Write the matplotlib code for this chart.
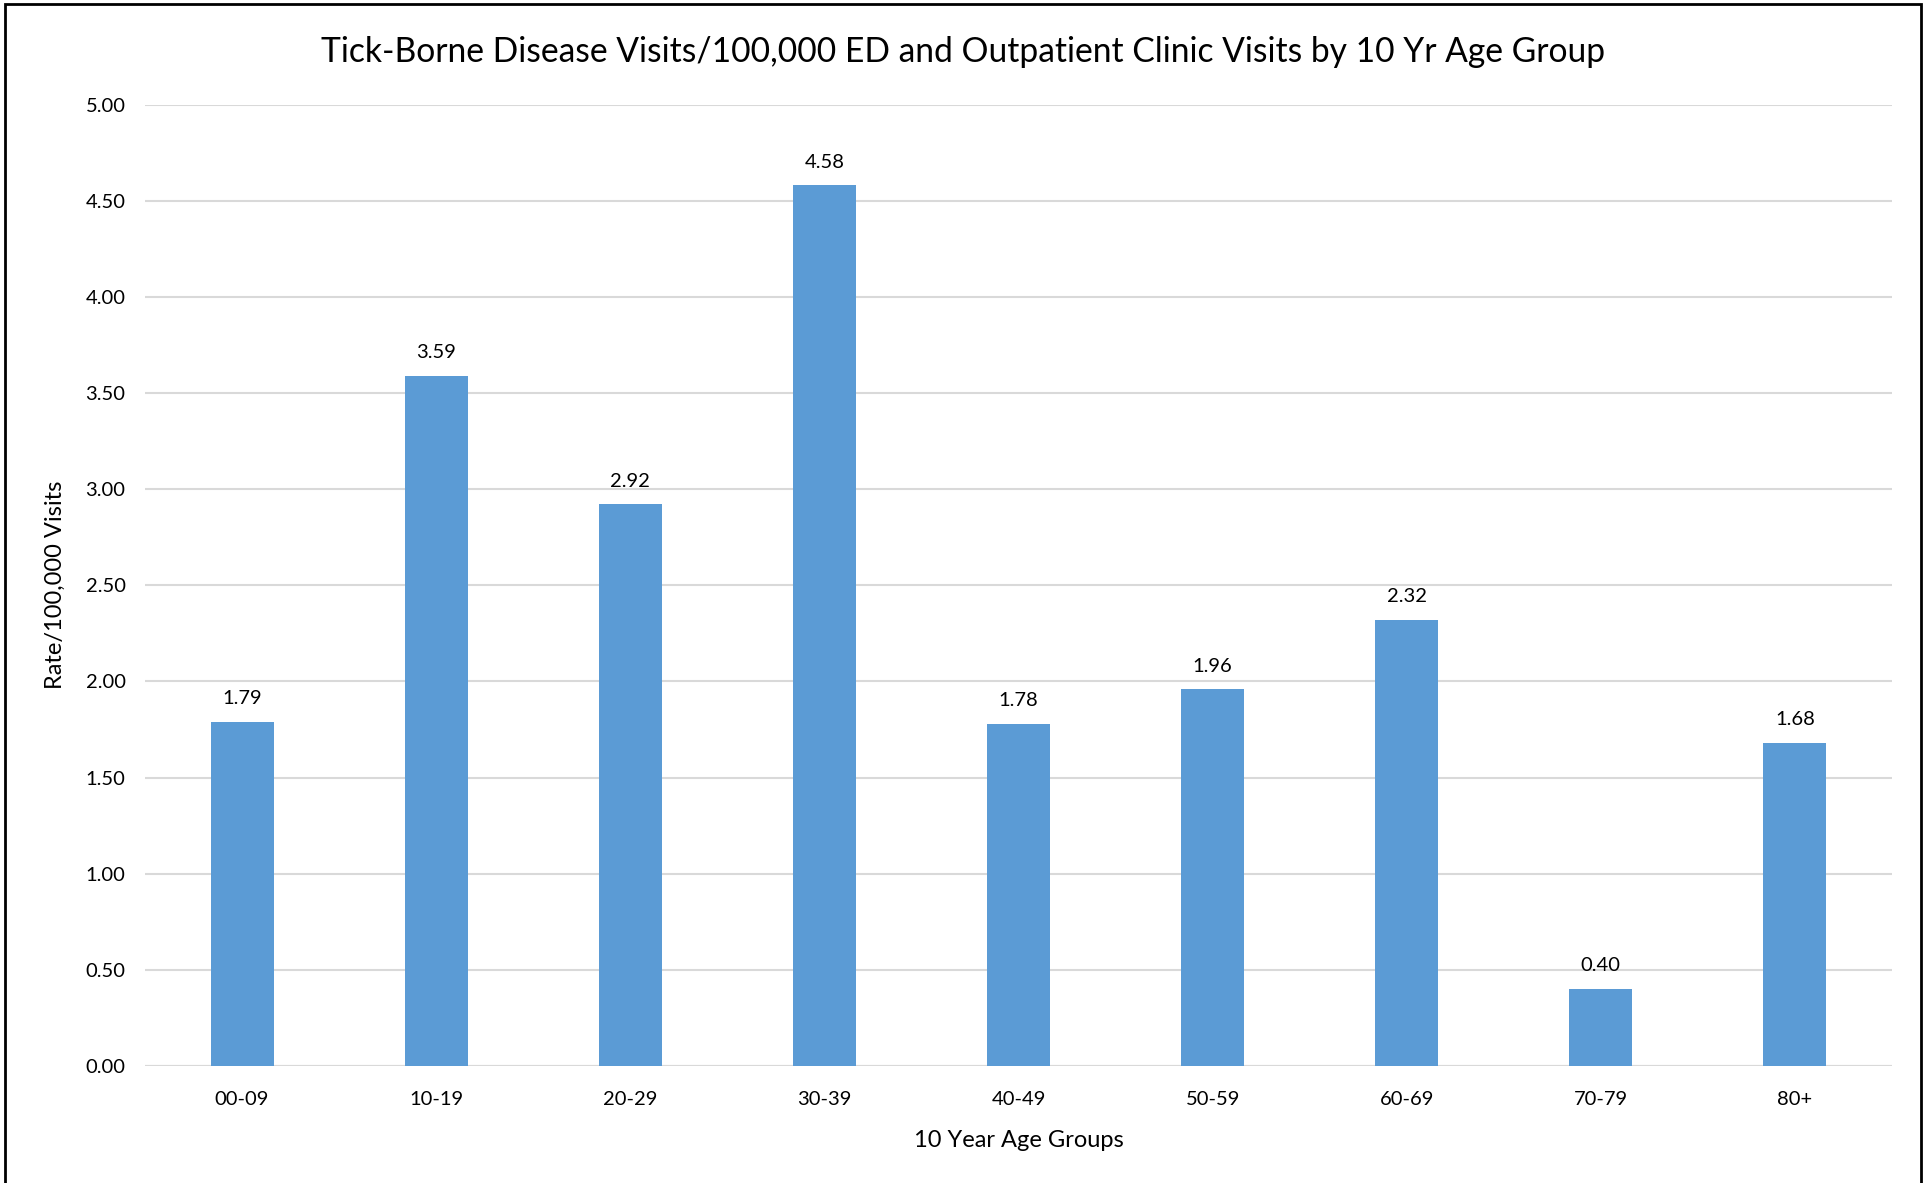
import matplotlib
matplotlib.use("Agg")
import matplotlib.pyplot as plt
from matplotlib.patches import Rectangle

categories = ["00-09", "10-19", "20-29", "30-39", "40-49", "50-59", "60-69", "70-79", "80+"]
values = [1.79, 3.59, 2.92, 4.58, 1.78, 1.96, 2.32, 0.40, 1.68]
yticks = [0.0, 0.5, 1.0, 1.5, 2.0, 2.5, 3.0, 3.5, 4.0, 4.5, 5.0]

plt.rcParams['font.family'] = ['Lato', 'DejaVu Sans']

W, H = 1931, 1183
fig = plt.figure(figsize=(W / 100, H / 100), dpi=100)
left, right, top, bottom = 145, 1892, 104.5, 1066
ax = fig.add_axes([left / W, 1 - bottom / H, (right - left) / W, (bottom - top) / H])

x = list(range(len(categories)))
ax.bar(x, values, width=0.325, color="#5B9BD5", zorder=3)
for xi, v in zip(x, values):
    ax.annotate(f"{v:.2f}", (xi, v), xytext=(0, 10.5), textcoords="offset points",
                ha="center", va="bottom", fontsize=14.5, color="#000000")

ax.set_xlim(-0.5, len(categories) - 0.5)
ax.set_ylim(0, 5)
ax.set_yticks(yticks)
ax.set_yticklabels([f"{t:.2f}" for t in yticks], fontsize=14.5)
ax.set_xticks(x)
ax.set_xticklabels(categories, fontsize=14.5)
ax.tick_params(axis="y", length=0, pad=14)
ax.tick_params(axis="x", length=0, pad=18)
ax.yaxis.grid(True, color="#D9D9D9", linewidth=1.5, zorder=0)
for s in ax.spines.values():
    s.set_visible(False)
ax.axhline(0, color="#D9D9D9", linewidth=1.5, zorder=2)

ax.set_xlabel("10 Year Age Groups", fontsize=17, labelpad=16)
ax.set_ylabel("Rate/100,000 Visits", fontsize=17, labelpad=14)

fig.text(963 / W, 1 - 52 / H, "Tick-Borne Disease Visits/100,000 ED and Outpatient Clinic Visits by 10 Yr Age Group",
         ha="center", va="center", fontsize=24.2)

fig.patches.append(Rectangle((5 / W, -0.01), (1921 - 5) / W, 1 - 4 / H + 0.01,
                             transform=fig.transFigure, fill=False, edgecolor="#000000", linewidth=2))

fig.savefig("out.png", dpi=100)
